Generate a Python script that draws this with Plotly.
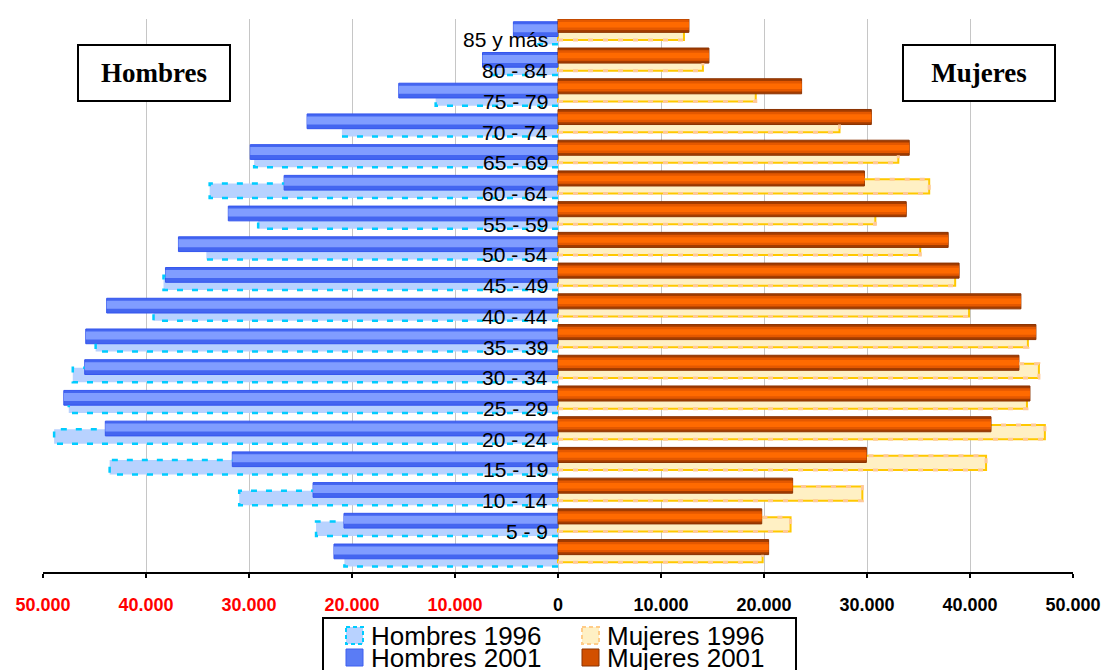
import plotly.graph_objects as go

# Population by age group (persons)
age_groups = ["0 - 4", "5 - 9", "10 - 14", "15 - 19", "20 - 24", "25 - 29",
              "30 - 34", "35 - 39", "40 - 44", "45 - 49", "50 - 54", "55 - 59",
              "60 - 64", "65 - 69", "70 - 74", "75 - 79", "80 - 84", "85 y más"]
# the youngest group has no printed label
age_labels = [""] + age_groups[1:]

hombres_1996 = [20740, 23490, 30950, 43530, 48920, 47500, 47110, 44890, 39270,
                38300, 34140, 29110, 33820, 29500, 20980, 11880, 6650, 1900]
hombres_2001 = [21750, 20780, 23780, 31620, 43950, 47980, 45950, 45850, 43820,
                38110, 36850, 32010, 26590, 29880, 24360, 15460, 7330, 4330]
mujeres_1996 = [19870, 22580, 29550, 41560, 47270, 45530, 46690, 45620, 39910,
                38560, 35170, 30810, 36040, 33040, 27330, 19200, 14070, 12230]
mujeres_2001 = [20450, 19780, 22780, 29940, 42040, 45820, 44750, 46400, 44940,
                38940, 37880, 33810, 29750, 34100, 30420, 23650, 14650, 12710]

tick_values = [-50000, -40000, -30000, -20000, -10000, 0,
               10000, 20000, 30000, 40000, 50000]
tick_labels = ["50.000", "40.000", "30.000", "20.000", "10.000", "0",
               "10.000", "20.000", "30.000", "40.000", "50.000"]

legend_names = ["Hombres 1996", "Hombres 2001", "Mujeres 1996", "Mujeres 2001"]

# ---------------------------------------------------------------------------
# geometry of the plotting area (pixels) and bar slots (category units)
W, H = 1105, 670
ML, MR, MT, MB = 43, 32, 19, 98
PW, PH = W - ML - MR, H - MT - MB

OFF_H96, W_H96 = -0.09, 0.47
OFF_H01, W_H01 = 0.17, 0.48
OFF_M96, W_M96 = 0.05, 0.465
OFF_M01, W_M01 = 0.31, 0.49

C_H96_FILL, C_H96_EDGE = "#B8D2FF", "#00CCFF"
C_H01_BASE, C_H01_HI = "#4466F0", "#809DFF"
C_M96_FILL, C_M96_LINE, C_M96_DASH = "#FFF0C4", "#FFC800", "#FFC99A"
C_M01_BASE, C_M01_MID, C_M01_HI = "#A33C00", "#E45800", "#FF6A00"


def px_x(px):
    return (px - ML) / PW


def px_y(py):
    return (H - MB - py) / PH


pos = list(range(len(age_groups)))
fig = go.Figure()


def add_bar(values, sign, off, width, color, line_color=None, line_width=0, name=""):
    fig.add_trace(go.Bar(
        orientation="h",
        x=[sign * v for v in values],
        y=[p + off for p in pos],
        base=0,
        width=width,
        marker=dict(color=color,
                    line=dict(color=line_color or color, width=line_width)),
        name=name,
        customdata=list(zip(age_groups, values)),
        hovertemplate="%{customdata[0]}: %{customdata[1]:,}<extra>" + name + "</extra>",
        showlegend=False,
    ))


# 1996 bars sit behind the 2001 bars
add_bar(hombres_1996, -1, OFF_H96, W_H96, C_H96_FILL, name="Hombres 1996")
add_bar(mujeres_1996, 1, OFF_M96, W_M96, C_M96_FILL, C_M96_LINE, 2, name="Mujeres 1996")

# 2001 bars with a lighter core for a shaded look
add_bar(hombres_2001, -1, OFF_H01, W_H01, C_H01_BASE, "#3355EE", 1, name="Hombres 2001")
add_bar(hombres_2001, -1, OFF_H01 + 0.03, 0.26, C_H01_HI, name="Hombres 2001")
add_bar(mujeres_2001, 1, OFF_M01, W_M01, C_M01_BASE, "#8A3200", 1, name="Mujeres 2001")
add_bar(mujeres_2001, 1, OFF_M01, 0.34, C_M01_MID, name="Mujeres 2001")
add_bar(mujeres_2001, 1, OFF_M01, 0.18, C_M01_HI, name="Mujeres 2001")


def outline_path(v_old, v_new, sign, off_old, w_old, off_new, w_new):
    """Dashed outline of the older bar, only where the newer bar does not hide it."""
    xs, ys = [], []
    for p, vo, vn in zip(pos, v_old, v_new):
        yb = p + off_old - w_old / 2
        yt = p + off_old + w_old / 2
        band_lo = p + off_new - w_new / 2
        xs += [0, sign * vo]
        ys += [yb, yb]
        if vo > vn:
            xs += [sign * vo, sign * vn]
            ys += [yt, yt]
        else:
            xs += [sign * vo]
            ys += [min(yt, band_lo)]
        xs.append(None)
        ys.append(None)
    return xs, ys


hx, hy = outline_path(hombres_1996, hombres_2001, -1, OFF_H96, W_H96, OFF_H01, W_H01)
fig.add_trace(go.Scatter(x=hx, y=hy, mode="lines", hoverinfo="skip", showlegend=False,
                         line=dict(color=C_H96_EDGE, width=2.5, dash="6px,9px")))
mx, my = outline_path(mujeres_1996, mujeres_2001, 1, OFF_M96, W_M96, OFF_M01, W_M01)
fig.add_trace(go.Scatter(x=mx, y=my, mode="lines", hoverinfo="skip", showlegend=False,
                         line=dict(color=C_M96_DASH, width=3, dash="5px,10px")))

annotations = []
# age group labels next to the centre line
for p, lab in zip(pos, age_labels):
    if not lab:
        continue
    annotations.append(dict(
        x=0, y=p, xref="x", yref="y", text=lab, showarrow=False,
        xanchor="right", yanchor="middle", xshift=-8, yshift=-5.5,
        font=dict(family="Liberation Sans, Arial", size=21, color="black")))

# side titles
for txt, cx in (("Hombres", 154), ("Mujeres", 979)):
    annotations.append(dict(
        x=px_x(cx), y=px_y(73), xref="paper", yref="paper",
        text="<b>" + txt + "</b>", showarrow=False,
        xanchor="center", yanchor="middle",
        width=150, height=54, borderpad=0, borderwidth=2,
        bordercolor="black", bgcolor="white",
        font=dict(family="Liberation Serif, Times New Roman", size=27, color="black")))

shapes = []
# legend frame
shapes.append(dict(type="rect", xref="paper", yref="paper",
                   x0=px_x(323), x1=px_x(796), y0=px_y(618), y1=px_y(690),
                   line=dict(color="black", width=2), fillcolor="white", layer="above"))

legend_styles = [
    (346, 627, dict(fillcolor=C_H96_FILL, line=dict(color=C_H96_EDGE, width=2, dash="4px,3px"))),
    (346, 649, dict(fillcolor="#5A7CF5", line=dict(color="#3D5FF0", width=1))),
    (582, 627, dict(fillcolor=C_M96_FILL, line=dict(color="#FFCC88", width=2, dash="4px,3px"))),
    (582, 649, dict(fillcolor="#D25000", line=dict(color="#8B3300", width=1))),
]
for name, (sx, sy, style) in zip(legend_names, legend_styles):
    shapes.append(dict(type="rect", xref="paper", yref="paper",
                       x0=px_x(sx), x1=px_x(sx + 17), y0=px_y(sy), y1=px_y(sy + 17),
                       layer="above", **style))
    annotations.append(dict(
        x=px_x(sx + 23), y=px_y(sy + 8.5), xref="paper", yref="paper",
        text=name, showarrow=False, xanchor="left", yanchor="middle",
        font=dict(family="Liberation Sans, Arial", size=26, color="black")))

tick_text = []
for v, lab in zip(tick_values, tick_labels):
    if v < 0:
        tick_text.append('<span style="color:#FF0000">' + lab + "</span>")
    else:
        tick_text.append(lab)

fig.update_layout(
    width=W, height=H,
    margin=dict(l=ML, r=MR, t=MT, b=MB, pad=0, autoexpand=False),
    paper_bgcolor="white", plot_bgcolor="white",
    barmode="overlay",
    showlegend=False,
    annotations=annotations,
    shapes=shapes,
    xaxis=dict(
        range=[-50000, 50000],
        automargin=False,
        tickmode="array", tickvals=tick_values, ticktext=tick_text,
        tickfont=dict(family="Liberation Sans, Arial", size=18, color="black", weight="bold"),
        showgrid=True, gridcolor="#C6C6C6", gridwidth=1,
        zeroline=False,
        showline=True, linecolor="black", linewidth=2,
        ticks="outside", ticklen=4, tickwidth=2, tickcolor="black",
        ticklabelstandoff=11,
        fixedrange=True,
    ),
    yaxis=dict(
        range=[-0.5, len(age_groups) - 0.5],
        automargin=False,
        showticklabels=False, showgrid=False, zeroline=False, showline=False,
        ticks="", fixedrange=True,
    ),
)

fig.write_html("out.html")
